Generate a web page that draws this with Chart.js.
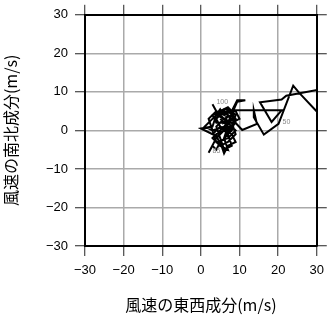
<!DOCTYPE html>
<html>
<head>
<meta charset="utf-8">
<script src="https://cdn.jsdelivr.net/npm/chart.js@4/dist/chart.umd.min.js"></script>
<style>
  html, body { margin: 0; padding: 0; background: #fff; }
  #wrap { width: 331px; height: 318px; }
</style>
</head>
<body>
<div id="wrap"><canvas id="myChart" width="331" height="318"></canvas></div>
<script>
// wind components, east-west (u) and north-south (v), m/s
const uWind = [
  // first knot
  5, 7, 6, 8, 9, 7, 4, 3, 0, 3,
  5, 7, 8, 6, 5, 4, 6, 8, 10, 9,
  6, 5, 7, 9, 7, 4, 3, 2, 4, 6,
  8, 9, 6, 4, 5, 7, 9, 8, 6, 4,
  3, 5, 7, 6,
  // run out to the east
  8.1, 10.7, 14.5, 13.7, 13.7, 16.3, 20.1, 23.9, 25.4, 32,
  33, 22.1, 20.9, 15.3, 18.3, 20.9, 8.1, 9.4, 11.5, 9.4,
  // second knot
  7, 5, 3, 5, 7, 6, 8, 9, 7, 5,
  3, 1, 3, 6, 8, 9, 7, 6, 5, 4,
  3, 2, 4, 6, 8, 6, 4, 5, 7, 9,
  8, 6, 4, 5, 6, 4, 3.0,
];
const vWind = [
  3, 1, -2, 0, 3, 5, 4, 1, 0.5, -1,
  1, -1, -4, -5, -2, 1, 3, 2, 3, 5,
  5.5, 4, 2, 0, -2, -3, 0, 3, 5, 4,
  5, 2, 0, -1, -4, -3, -1, 2, 2, 2,
  4, 5, 4, 2,
  2.9, 0.1, 1.7, 5.2, 3.4, -1.1, 1.7, 11.6, 9.8, 2.8,
  11, 9.0, 8.0, 7.3, 2.2, 5.2, 5.2, 7.8, 7.8, 7.4,
  2, 0, -2, -4, -5, -2, 1, 4, 6, 5,
  3, 1, 0, 1, -1, -3, -4, -6, -3, -5,
  -4, -5.8, -2, 0, 3, 5, 3, 1, 0, 2,
  4, 3, 4, 5.5, 4, 5, 6.8,
];
// time steps that get a small number next to the line
const markIndex = [50, 85, 100];

const axisTicks = [-30, -20, -10, 0, 10, 20, 30];
const xTitle = "風速の東西成分(m/s)";
const yTitle = "風速の南北成分(m/s)";

const points = [];
for (let i = 0; i < uWind.length; i += 1) {
  points.push({ x: uWind[i], y: vWind[i] });
}

const minusSign = (v) => String(v).replace("-", "\u2212");

// little grey step numbers
const markLabels = {
  id: "markLabels",
  afterDatasetsDraw(chart) {
    const meta = chart.getDatasetMeta(0);
    const { ctx } = chart;
    ctx.save();
    ctx.fillStyle = "#888";
    ctx.font = "7px 'Liberation Sans', sans-serif";
    ctx.textAlign = "left";
    ctx.textBaseline = "middle";
    markIndex.forEach((idx) => {
      const p = meta.data[idx];
      if (p) ctx.fillText(String(idx), p.x + 4, p.y - 2);
    });
    ctx.restore();
  },
};

const gridCol = "#aaaaaa";
const tickCol = "#222";
const fontFam = "'Liberation Sans', 'Noto Sans CJK JP', sans-serif";

const baseScale = (pos, size, showLabels) => ({
  type: "linear",
  position: pos,
  min: -30,
  max: 30,
  afterBuildTicks: (scale) => {
    scale.ticks = axisTicks.map((v) => ({ value: v }));
  },
  afterFit: (scale) => {
    if (pos === "left" || pos === "right") scale.width = size;
    else scale.height = size;
  },
  border: { display: true, color: "#000", width: 2 },
  grid: {
    color: gridCol,
    lineWidth: 1.5,
    tickColor: tickCol,
    tickLength: 10,
    tickWidth: 1,
    drawOnChartArea: showLabels,
  },
  ticks: {
    display: showLabels,
    color: "#000",
    font: { family: fontFam, size: 13 },
    padding: 7,
    maxRotation: 0,
    autoSkip: false,
    callback: (v) => minusSign(v),
  },
});

const xAxis = baseScale("bottom", 72, true);
xAxis.title = {
  display: true,
  text: xTitle,
  color: "#000",
  font: { family: "'Noto Sans CJK JP', sans-serif", size: 16 },
  padding: { top: 0, bottom: 3 },
};
const yAxis = baseScale("left", 85, true);
yAxis.title = {
  display: true,
  text: yTitle,
  color: "#000",
  font: { family: "'Noto Sans CJK JP', sans-serif", size: 16 },
  padding: { top: 1, bottom: 0 },
};

const ctx = document.getElementById("myChart").getContext("2d");
const chart = new Chart(ctx, {
  type: "scatter",
  data: {
    datasets: [{
      data: points,
      showLine: true,
      borderColor: "#000",
      backgroundColor: "#000",
      borderWidth: 2,
      pointRadius: 0,
      tension: 0,
    }],
  },
  options: {
    responsive: false,
    animation: false,
    layout: { padding: 0 },
    plugins: {
      legend: { display: false },
      tooltip: { enabled: false },
    },
    scales: {
      x: xAxis,
      y: yAxis,
      x2: baseScale("top", 11, false),
      y2: baseScale("right", 10, false),
    },
  },
  plugins: [markLabels],
});
</script>
</body>
</html>
